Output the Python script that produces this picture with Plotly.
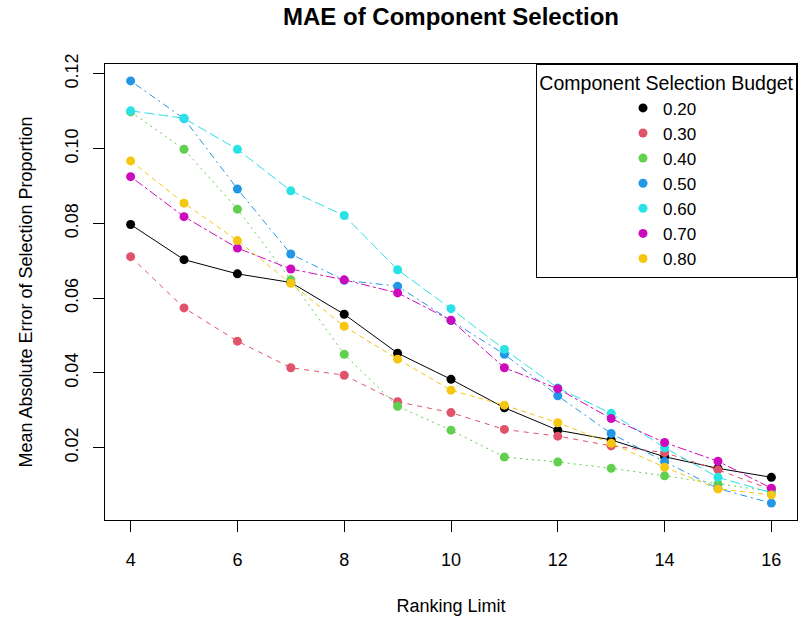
import plotly.graph_objects as go

ranking_limit = [4, 5, 6, 7, 8, 9, 10, 11, 12, 13, 14, 15, 16]

budget_labels = ["0.20", "0.30", "0.40", "0.50", "0.60", "0.70", "0.80"]

mae_020 = [0.0797, 0.0703, 0.0665, 0.0642, 0.0557, 0.0453, 0.0383, 0.0307, 0.0247, 0.0221, 0.0176, 0.0145, 0.0121]
mae_030 = [0.0711, 0.0574, 0.0485, 0.0414, 0.0394, 0.0323, 0.0294, 0.0249, 0.0231, 0.0205, 0.0187, 0.0141, 0.0088]
mae_040 = [0.1098, 0.0998, 0.0838, 0.0649, 0.0450, 0.0311, 0.0247, 0.0175, 0.0162, 0.0145, 0.0125, 0.0103, 0.0083]
mae_050 = [0.1181, 0.1080, 0.0892, 0.0718, 0.0648, 0.0632, 0.0540, 0.0450, 0.0339, 0.0238, 0.0163, 0.0091, 0.0052]
mae_060 = [0.1101, 0.1081, 0.0998, 0.0887, 0.0821, 0.0676, 0.0572, 0.0463, 0.0360, 0.0292, 0.0200, 0.0121, 0.0080]
mae_070 = [0.0925, 0.0818, 0.0734, 0.0678, 0.0649, 0.0614, 0.0541, 0.0414, 0.0358, 0.0278, 0.0214, 0.0164, 0.0092]
mae_080 = [0.0967, 0.0854, 0.0754, 0.0640, 0.0525, 0.0437, 0.0354, 0.0314, 0.0267, 0.0212, 0.0148, 0.0090, 0.0074]

series = [mae_020, mae_030, mae_040, mae_050, mae_060, mae_070, mae_080]

colors = ["#000000", "#DF536B", "#61D04F", "#2297E6", "#28E2E5", "#CD0BBC", "#F5C710"]
dashes = ["solid", "5px,5px", "2px,4px", "2px,4px,7px,4px", "10px,4px", "3px,3px,9px,3px", "5px,4px"]

FONT = "Liberation Sans, Arial, sans-serif"

fig = go.Figure()
for lab, vals, col, dsh in zip(budget_labels, series, colors, dashes):
    fig.add_trace(go.Scatter(
        x=ranking_limit, y=vals, mode="lines",
        line=dict(color=col, width=1, dash=dsh),
        showlegend=False, hoverinfo="skip"))
    fig.add_trace(go.Scatter(
        x=ranking_limit, y=vals, mode="markers", name=lab,
        marker=dict(color=col, size=9, line=dict(width=0)),
        showlegend=True))

all_vals = [v for s in series for v in s]
ymin, ymax = min(all_vals), max(all_vals)
pad = 0.04 * (ymax - ymin)
xmin, xmax = min(ranking_limit), max(ranking_limit)
xpad = 0.04 * (xmax - xmin)

fig.update_layout(
    width=798, height=620,
    margin=dict(l=105, r=1, t=64, b=100, autoexpand=False),
    paper_bgcolor="white", plot_bgcolor="white",
    font=dict(family=FONT, size=18, color="black"),
    title=dict(text="<b>MAE of Component Selection</b>", x=0.5, xref="paper",
               y=1 - 17 / 620, yref="container", yanchor="middle",
               font=dict(size=24, family=FONT, color="black")),
    showlegend=True,
    legend=dict(
        x=1, xanchor="right", y=1, yanchor="top",
        bordercolor="black", borderwidth=1, bgcolor="white",
        font=dict(size=17, family=FONT),
        title=dict(text="Component Selection Budget", side="top center",
                   font=dict(size=19.5, family=FONT)),
        itemwidth=30,
        indentation=86,
        tracegroupgap=0,
    ),
)

fig.update_xaxes(
    range=[xmin - xpad, xmax + xpad],
    tickmode="array", tickvals=[4, 6, 8, 10, 12, 14, 16],
    ticks="outside", ticklen=11, tickcolor="black", tickwidth=1,
    showline=True, linecolor="black", linewidth=1, mirror=True,
    showgrid=False, zeroline=False,
    ticklabelstandoff=12,
    tickfont=dict(size=18, family=FONT),
    title=dict(text="Ranking Limit", font=dict(size=18, family=FONT), standoff=30),
)
fig.update_yaxes(
    range=[ymin - pad, ymax + pad],
    tickmode="array", tickvals=[0.02, 0.04, 0.06, 0.08, 0.10, 0.12],
    ticktext=["0.02", "0.04", "0.06", "0.08", "0.10", "0.12"],
    ticks="outside", ticklen=11, tickcolor="black", tickwidth=1,
    tickangle=-90,
    showline=True, linecolor="black", linewidth=1, mirror=True,
    showgrid=False, zeroline=False,
    ticklabelstandoff=8,
    tickfont=dict(size=18, family=FONT),
    title=dict(text="Mean Absolute Error of Selection Proportion", font=dict(size=18, family=FONT), standoff=24),
)

fig.write_html("out.html", config={"displayModeBar": False},
               post_script="document.body.style.margin='0';")
